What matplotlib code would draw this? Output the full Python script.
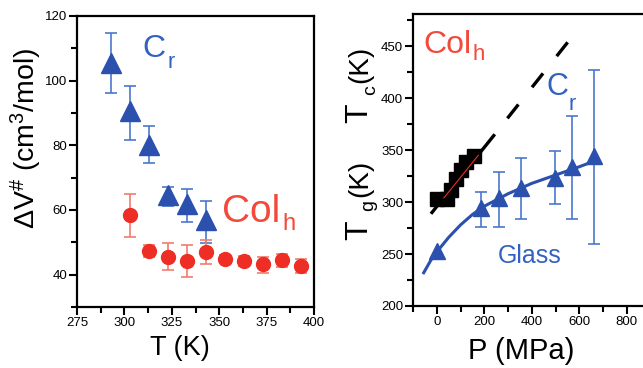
import numpy as np
import matplotlib
matplotlib.use('Agg')
import matplotlib.pyplot as plt
from matplotlib.ticker import MultipleLocator

plt.rcParams['font.family'] = ['Liberation Sans', 'DejaVu Sans']
plt.rcParams['mathtext.default'] = 'regular'

# activation volume vs temperature
cr_T = [293, 303, 313, 323, 333, 343]
cr_dV = [105.5, 90.5, 80.0, 64.5, 61.8, 56.8]
cr_lo = [9.3, 8.8, 5.5, 3.3, 5.4, 6.9]
cr_hi = [9.2, 8.0, 6.0, 2.7, 4.6, 6.0]

col_T = [303, 313, 323, 333, 343, 353, 363, 373, 383, 393]
col_dV = [58.4, 47.3, 45.6, 44.3, 47.1, 45.0, 44.3, 43.2, 44.5, 42.8]
col_lo = [6.6, 1.8, 4.1, 5.0, 3.7, 1.2, 1.5, 2.6, 2.0, 2.4]
col_hi = [6.4, 1.8, 4.1, 5.0, 3.7, 1.2, 1.5, 2.4, 2.0, 2.2]

# transition temperatures vs pressure
tc_P = [0, 45, 60, 80, 100, 125, 155]
tc_T = [303, 303, 312, 322, 331, 339, 344]
tc_fit_P = [30, 175]
tc_fit_T = [304, 345]
tc_line_P = [-20, 240, 552]
tc_line_T = [290, 364, 454]

tg_P = [0, 185, 264, 354, 497, 571, 660]
tg_T = [252.5, 294, 304, 313.5, 323, 334, 344]
tg_lo = [0, 17.5, 27.5, 29.7, 25.0, 50.5, 84.6]
tg_hi = [0, 15.3, 24.5, 28.8, 26.4, 48.5, 83.0]
tg_fit_P = [-55, -25, 0, 50, 100, 150, 200, 300, 400, 500, 600, 670]
tg_fit_T = [232, 244, 252, 266, 278, 288, 296, 308, 318, 326, 334, 340]

blue = '#2b50ae'
blue_err = '#4a78cc'
blue_txt = '#3361bf'
red = '#ee2e25'
red_err = '#f07c6c'
red_txt = '#f2493a'

W, H = 643, 368
fig = plt.figure(figsize=(W / 100, H / 100), dpi=100)
ax1 = fig.add_axes([77 / W, 1 - 307 / H, 237 / W, 291 / H])
ax2 = fig.add_axes([413 / W, 1 - 306 / H, 237.5 / W, 292 / H])


def px(x, y):
    # figure pixel (from top-left) -> figure fraction
    return x / W, 1 - y / H


for ax in (ax1, ax2):
    for s in ax.spines.values():
        s.set_linewidth(1.6)
    ax.tick_params(which='major', direction='out', length=6, width=1.5, labelsize=9.5, pad=1)
    ax.tick_params(which='minor', direction='out', length=4, width=1.5)

# left panel
ax1.errorbar(cr_T, cr_dV, yerr=[cr_lo, cr_hi], fmt='none', ecolor=blue_err,
             elinewidth=1.2, capsize=4, capthick=1.2, zorder=2)
ax1.plot(cr_T, cr_dV, '^', color=blue, markersize=14, zorder=3)
ax1.errorbar(col_T, col_dV, yerr=[col_lo, col_hi], fmt='none', ecolor=red_err,
             elinewidth=1.2, capsize=4, capthick=1.2, zorder=2)
ax1.plot(col_T, col_dV, 'o', color=red, markersize=10, zorder=3)

ax1.set_xlim(275, 400)
ax1.set_ylim(30, 120)
ax1.xaxis.set_major_locator(MultipleLocator(25))
ax1.xaxis.set_minor_locator(MultipleLocator(12.5))
ax1.yaxis.set_minor_locator(MultipleLocator(10))
ax1.set_yticks([40, 60, 80, 100, 120])

ax1.text(309.5, 107.3, 'C', color=blue_txt, fontsize=23, va='baseline')
ax1.text(322.7, 103.9, 'r', color=blue_txt, fontsize=15.5, va='baseline')
ax1.text(351.5, 56.3, 'Col', color=red_txt, fontsize=28, va='baseline')
ax1.text(383.5, 53.8, 'h', color=red_txt, fontsize=17, va='baseline')

ax1.set_xlabel('T (K)', fontsize=19.5)
ax1.xaxis.set_label_coords(0.435, -0.095)
ax1.set_ylabel('ΔV$^{\\#}$ (cm$^{3}$/mol)', fontsize=20.5)
ax1.yaxis.set_label_coords(-0.139, 0.58)

# right panel
ax2.plot(tc_P, tc_T, 's', color='black', markersize=9.5, zorder=3)
ax2.plot(tc_fit_P, tc_fit_T, '-', color=red, linewidth=0.8, zorder=4)
ax2.plot(tc_line_P[:2], tc_line_T[:2], '-', color='black', linewidth=2.4, zorder=2)
ax2.plot(tc_line_P[1:], tc_line_T[1:], color='black', linewidth=2.4,
         linestyle=(5.3, (5.3, 6.6)), zorder=2)

ax2.plot(tg_fit_P, tg_fit_T, '-', color=blue, linewidth=2.2, zorder=2)
ax2.errorbar(tg_P[1:], tg_T[1:], yerr=[tg_lo[1:], tg_hi[1:]], fmt='none',
             ecolor=blue_err, elinewidth=1.2, capsize=4, capthick=1.2, zorder=2)
ax2.plot(tg_P, tg_T, '^', color=blue, markersize=11, zorder=3)

ax2.set_xlim(-100, 900)
ax2.set_ylim(200, 481)
ax2.xaxis.set_minor_locator(MultipleLocator(100))
ax2.set_xticks([0, 200, 400, 600, 800])
ax2.yaxis.set_minor_locator(MultipleLocator(25))
ax2.set_yticks([200, 250, 300, 350, 400, 450])

ax2.text(-58, 443.5, 'Col', color=red_txt, fontsize=23, va='baseline')
ax2.text(152.6, 436.7, 'h', color=red_txt, fontsize=16, va='baseline')
ax2.text(464, 403, 'C', color=blue_txt, fontsize=22, va='baseline')
ax2.text(556.8, 388.6, 'r', color=blue_txt, fontsize=15.5, va='baseline')
ax2.text(258, 241.4, 'Glass', color=blue_txt, fontsize=18, va='baseline')

ax2.set_xlabel('P (MPa)', fontsize=21)
ax2.xaxis.set_label_coords(0.455, -0.105)

# rotated y label of the right panel, built piece by piece
ylab_parts = [('T', 367, 240, 23), ('g', 373, 211, 14), ('(K)', 367, 197, 20),
              ('T', 367, 123, 23), ('c', 375, 95, 14), ('(K)', 367, 83, 20)]
for s, bx, by, fs in ylab_parts:
    fig.text(*px(bx, by), s, fontsize=fs, rotation=90, rotation_mode='anchor',
             ha='left', va='baseline')

fig.savefig('out.png', dpi=100)
